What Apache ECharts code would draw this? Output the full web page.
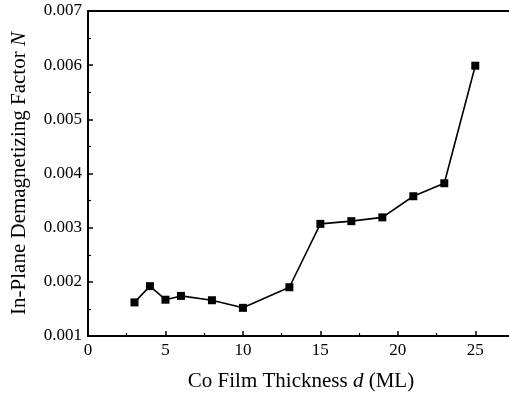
<!DOCTYPE html>
<html>
<head>
<meta charset="utf-8">
<script src="https://cdn.jsdelivr.net/npm/echarts@6/dist/echarts.min.js"></script>
<style>
html,body{margin:0;padding:0;background:#fff;overflow:hidden;}
/* the plot frame continues a few pixels past the right edge of the window */
#chart{width:517px;height:401px;}
</style>
</head>
<body>
<div id="chart"></div>
<script>
// Co film thickness (ML) and in-plane demagnetizing factor N
const thickness = [3, 4, 5, 6, 8, 10, 13, 15, 17, 19, 21, 23, 25];
const demagN = [0.00162, 0.00192, 0.00167, 0.00174, 0.00166, 0.00152, 0.00190,
                0.00307, 0.00312, 0.00319, 0.00358, 0.00382, 0.00599];
const xTicks = [0, 5, 10, 15, 20, 25];
const yTicks = [0.001, 0.002, 0.003, 0.004, 0.005, 0.006, 0.007];

const serif = '"Liberation Serif", "DejaVu Serif", serif';
const chart = echarts.init(document.getElementById('chart'));

chart.setOption({
  animation: false,
  backgroundColor: '#fff',
  grid: { left: 88, right: 0, top: 11, bottom: 65 },
  xAxis: [{
    type: 'value', min: 0, max: 27.5, interval: 5,
    name: '{t|Co Film Thickness }{i|d}{t| (ML)}',
    nameLocation: 'middle', nameGap: 35,
    nameTextStyle: {
      rich: {
        t: { fontFamily: serif, fontSize: 21, color: '#000' },
        i: { fontFamily: serif, fontSize: 21, fontStyle: 'italic', color: '#000' }
      }
    },
    axisLine: { onZero: false, lineStyle: { color: '#000', width: 2 } },
    axisTick: { inside: true, length: 5, lineStyle: { color: '#000', width: 1.5 } },
    minorTick: { show: true, splitNumber: 2, length: 3, lineStyle: { color: '#000', width: 1.2 } },
    splitLine: { show: false },
    axisLabel: {
      fontFamily: serif, fontSize: 17, color: '#000', margin: 6,
      formatter: v => xTicks.includes(v) ? String(v) : ''
    }
  }, {
    type: 'value', position: 'top', min: 0, max: 27.5,
    axisLine: { show: true, onZero: false, lineStyle: { color: '#000', width: 2 } },
    axisTick: { show: false }, axisLabel: { show: false }, splitLine: { show: false }
  }],
  yAxis: {
    type: 'value', min: 0.001, max: 0.007, interval: 0.001,
    name: '{t|In-Plane Demagnetizing Factor }{i|N}',
    nameLocation: 'middle', nameGap: 58, nameRotate: 90,
    nameTextStyle: {
      rich: {
        t: { fontFamily: serif, fontSize: 21, color: '#000' },
        i: { fontFamily: serif, fontSize: 21, fontStyle: 'italic', color: '#000' }
      }
    },
    axisLine: { onZero: false, lineStyle: { color: '#000', width: 2 } },
    axisTick: { inside: true, length: 5, lineStyle: { color: '#000', width: 1.5 } },
    minorTick: { show: true, splitNumber: 2, length: 3, lineStyle: { color: '#000', width: 1.2 } },
    splitLine: { show: false },
    axisLabel: {
      fontFamily: serif, fontSize: 17, color: '#000', margin: 6,
      formatter: v => {
        const t = yTicks.find(y => Math.abs(y - v) < 1e-9);
        return t !== undefined ? t.toFixed(3) : '';
      }
    }
  },
  series: [{
    type: 'line',
    data: thickness.map((d, i) => [d, demagN[i]]),
    symbol: 'rect', symbolSize: 8,
    itemStyle: { color: '#000' },
    lineStyle: { color: '#000', width: 1.6 }
  }]
});
</script>
</body>
</html>
